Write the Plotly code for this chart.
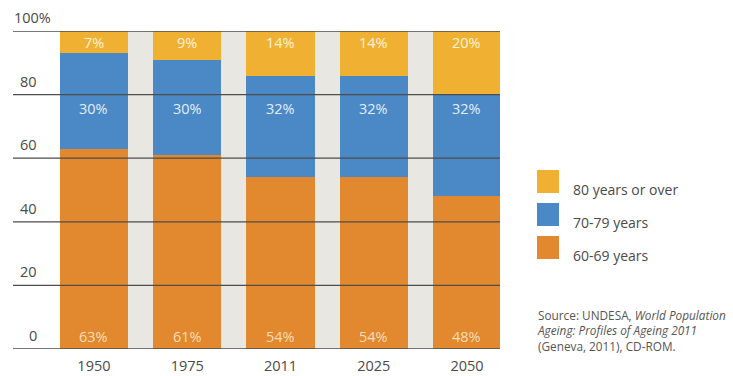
import plotly.graph_objects as go

years = ["1950", "1975", "2011", "2025", "2050"]
age_60_69 = [63, 61, 54, 54, 48]
age_70_79 = [30, 30, 32, 32, 32]
age_80_plus = [7, 9, 14, 14, 20]
series_names = ["80 years or over", "70-79 years", "60-69 years"]
y_ticks = [0, 20, 40, 60, 80, 100]

C_ORANGE = "#E2892F"
C_BLUE = "#4A89C5"
C_YELLOW = "#F0B132"
C_GAP = "#E8E7E1"
C_GRID = "#4D4D4D"
C_TEXT = "#4A4A4A"
FONT = "Open Sans"

x = list(range(len(years)))
bw = 0.73

fig = go.Figure()
for vals, col, name in [(age_60_69, C_ORANGE, series_names[2]),
                        (age_70_79, C_BLUE, series_names[1]),
                        (age_80_plus, C_YELLOW, series_names[0])]:
    fig.add_trace(go.Bar(x=x, y=vals, name=name, marker=dict(color=col, line_width=0),
                         width=bw, showlegend=False, hoverinfo="skip"))

shapes = []
annotations = []

# light band behind the columns
shapes.append(dict(type="rect", xref="x", yref="y", x0=-bw / 2, x1=len(years) - 1 + bw / 2,
                   y0=0, y1=100, fillcolor=C_GAP, line_width=0, layer="below"))

# horizontal rules drawn over the bars
for t in y_ticks:
    shapes.append(dict(type="line", xref="paper", yref="y", x0=0, x1=1, y0=t, y1=t,
                       line=dict(color=C_GRID, width=1.3), layer="above"))
    if t == 100:
        annotations.append(dict(xref="paper", yref="y", x=0, y=t, text="100%", showarrow=False,
                                xanchor="left", yanchor="bottom", yshift=2, xshift=-1,
                                font=dict(family=FONT, size=14.5, color=C_TEXT)))
    else:
        annotations.append(dict(xref="paper", yref="y", x=0, y=t, text=str(t), showarrow=False,
                                xanchor="right", yanchor="bottom", yshift=2, xshift=26,
                                font=dict(family=FONT, size=14.5, color=C_TEXT)))

# value labels inside each segment
for i in x:
    for val, ypos, col in [(age_80_plus[i], 96.5, "#FDF1DC"),
                           (age_70_79[i], 75.5, "#E4EDF7"),
                           (age_60_69[i], 4.0, "#F8DDBA")]:
        annotations.append(dict(x=i, y=ypos, xref="x", yref="y", text=f"{val}%", showarrow=False,
                                font=dict(family=FONT, size=14.5, color=col)))

# legend
leg_x0 = 537
for k, (name, col) in enumerate(zip(series_names, [C_YELLOW, C_BLUE, C_ORANGE])):
    top = 170 + k * 33
    shapes.append(dict(type="rect", xref="paper", yref="paper",
                       x0=(leg_x0 - 13) / 487, x1=(leg_x0 + 22 - 13) / 487,
                       y0=(349 - top) / 318, y1=(349 - top - 23) / 318,
                       fillcolor=col, line_width=0))
    annotations.append(dict(xref="paper", yref="paper", x=(571 - 13) / 487,
                            y=(349 - (top + 19)) / 318, text=name, showarrow=False,
                            xanchor="left", yanchor="middle",
                            font=dict(family=FONT, size=14, color=C_TEXT)))

annotations.append(dict(xref="paper", yref="paper", x=(535 - 13) / 487, y=(349 - 330) / 318,
                        text="Source: UNDESA, <i>World Population</i><br><i>Ageing: Profiles of Ageing 2011</i><br>(Geneva, 2011), CD-ROM.",
                        showarrow=False, xanchor="left", yanchor="middle", align="left",
                        font=dict(family=FONT, size=11.8, color="#555555")))

fig.update_layout(
    barmode="stack",
    bargap=0,
    width=733, height=376,
    margin=dict(l=13, r=233, t=31, b=27, autoexpand=False),
    paper_bgcolor="white", plot_bgcolor="white",
    shapes=shapes, annotations=annotations,
    xaxis=dict(range=[-0.868, 4.354], tickmode="array", tickvals=x, ticktext=years,
               showgrid=False, zeroline=False, showline=False, ticks="", automargin=False,
               tickfont=dict(family=FONT, size=14.5, color=C_TEXT), ticklabelstandoff=6),
    yaxis=dict(range=[0, 100], showgrid=False, zeroline=False, showticklabels=False,
               automargin=False),
)

fig.write_html("out.html")
